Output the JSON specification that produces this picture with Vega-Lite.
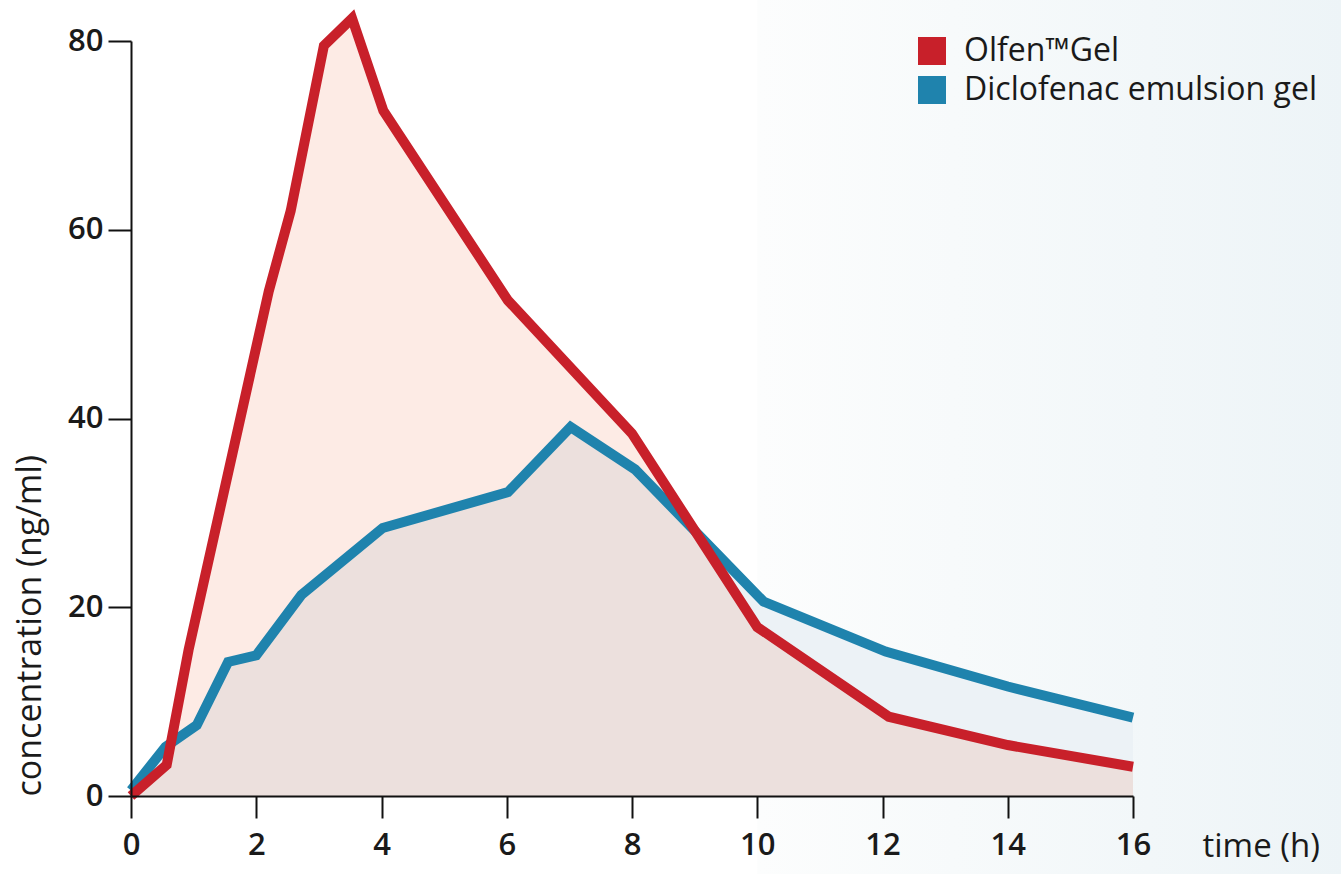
{
  "$schema": "https://vega.github.io/schema/vega-lite/v6.json",
  "width": 1002,
  "height": 755,
  "autosize": {"type": "none"},
  "padding": {"left": 131, "top": 41, "right": 208, "bottom": 78},
  "background": "#ffffff",
  "config": {
    "view": {"stroke": null},
    "font": "Open Sans"
  },
  "datasets": {
    "pk": [
      {"series": "Olfen™Gel", "time": 0, "conc": 0},
      {"series": "Olfen™Gel", "time": 0.57, "conc": 3.3},
      {"series": "Olfen™Gel", "time": 0.92, "conc": 15.5},
      {"series": "Olfen™Gel", "time": 2.2, "conc": 53.5},
      {"series": "Olfen™Gel", "time": 2.55, "conc": 62},
      {"series": "Olfen™Gel", "time": 3.08, "conc": 79.5},
      {"series": "Olfen™Gel", "time": 3.53, "conc": 82.4},
      {"series": "Olfen™Gel", "time": 4.03, "conc": 72.6},
      {"series": "Olfen™Gel", "time": 6.02, "conc": 52.5},
      {"series": "Olfen™Gel", "time": 8.0, "conc": 38.4},
      {"series": "Olfen™Gel", "time": 10.0, "conc": 17.9},
      {"series": "Olfen™Gel", "time": 12.1, "conc": 8.4},
      {"series": "Olfen™Gel", "time": 14.0, "conc": 5.4},
      {"series": "Olfen™Gel", "time": 16, "conc": 3.1},
      {"series": "Diclofenac emulsion gel", "time": 0, "conc": 0.6},
      {"series": "Diclofenac emulsion gel", "time": 0.55, "conc": 5.2},
      {"series": "Diclofenac emulsion gel", "time": 1.05, "conc": 7.5},
      {"series": "Diclofenac emulsion gel", "time": 1.55, "conc": 14.2},
      {"series": "Diclofenac emulsion gel", "time": 2.0, "conc": 14.9},
      {"series": "Diclofenac emulsion gel", "time": 2.72, "conc": 21.3},
      {"series": "Diclofenac emulsion gel", "time": 4.02, "conc": 28.4},
      {"series": "Diclofenac emulsion gel", "time": 6.02, "conc": 32.2},
      {"series": "Diclofenac emulsion gel", "time": 7.02, "conc": 39.1},
      {"series": "Diclofenac emulsion gel", "time": 8.05, "conc": 34.6},
      {"series": "Diclofenac emulsion gel", "time": 10.1, "conc": 20.6},
      {"series": "Diclofenac emulsion gel", "time": 12.05, "conc": 15.3},
      {"series": "Diclofenac emulsion gel", "time": 14.0, "conc": 11.6},
      {"series": "Diclofenac emulsion gel", "time": 16, "conc": 8.3}
    ]
  },
  "layer": [
    {
      "data": {"values": [{"t0": 10.0, "t1": 19.4, "c0": -8.5, "c1": 87}]},
      "mark": {
        "type": "rect",
        "color": {
          "gradient": "linear",
          "x1": 0, "y1": 0, "x2": 1, "y2": 0,
          "stops": [
            {"offset": 0, "color": "#fcfdfd"},
            {"offset": 1, "color": "#edf4f7"}
          ]
        }
      },
      "encoding": {
        "x": {
          "field": "t0", "type": "quantitative",
          "scale": {"domain": [0, 16], "nice": false},
          "axis": {
            "zindex": 2,
            "values": [0, 2, 4, 6, 8, 10, 12, 14, 16],
            "format": "d",
            "labelFlush": false,
            "grid": false,
            "domainColor": "#111111", "domainWidth": 2,
            "tickColor": "#111111", "tickWidth": 2, "tickSize": 22,
            "labelFont": "Open Sans", "labelFontSize": 31, "labelFontWeight": 600, "labelColor": "#1a1a1a",
            "labelPadding": 12,
            "title": "time (h)",
            "titleFont": "Open Sans", "titleFontSize": 33, "titleFontWeight": 500, "titleColor": "#1a1a1a",
            "titleAlign": "left", "titleBaseline": "alphabetic",
            "titleX": 1071, "titleY": 60
          }
        },
        "x2": {"field": "t1"},
        "y": {
          "field": "c0", "type": "quantitative",
          "scale": {"domain": [0, 80], "nice": false},
          "axis": {
            "zindex": 2,
            "values": [0, 20, 40, 60, 80],
            "format": "d",
            "labelFlush": false,
            "grid": false,
            "domainColor": "#111111", "domainWidth": 2,
            "tickColor": "#111111", "tickWidth": 2, "tickSize": 23,
            "labelFont": "Open Sans", "labelFontSize": 31, "labelFontWeight": 600, "labelColor": "#1a1a1a",
            "labelPadding": 5,
            "title": "concentration (ng/ml)",
            "titleFont": "Open Sans", "titleFontSize": 34, "titleFontWeight": 500, "titleColor": "#1a1a1a",
            "titleAngle": -90,
            "titleAlign": "left", "titleBaseline": "bottom",
            "titleX": -84, "titleY": 755
          }
        },
        "y2": {"field": "c1"}
      }
    },
    {
      "data": {"name": "pk"},
      "transform": [{"filter": "datum.series === 'Diclofenac emulsion gel'"}],
      "mark": {"type": "area", "color": "#ecf2f6", "opacity": 1},
      "encoding": {
        "x": {"field": "time", "type": "quantitative"},
        "y": {"field": "conc", "type": "quantitative"}
      }
    },
    {
      "data": {"name": "pk"},
      "transform": [{"filter": "datum.series === 'Olfen™Gel'"}],
      "mark": {"type": "area", "color": "#f07850", "opacity": 0.15},
      "encoding": {
        "x": {"field": "time", "type": "quantitative"},
        "y": {"field": "conc", "type": "quantitative"}
      }
    },
    {
      "data": {"name": "pk"},
      "transform": [{"filter": "datum.series === 'Diclofenac emulsion gel'"}],
      "mark": {"type": "line", "color": "#1f83ad", "strokeWidth": 10, "strokeJoin": "miter", "strokeCap": "butt"},
      "encoding": {
        "x": {"field": "time", "type": "quantitative"},
        "y": {"field": "conc", "type": "quantitative"}
      }
    },
    {
      "data": {"name": "pk"},
      "transform": [{"filter": "datum.series === 'Olfen™Gel'"}],
      "mark": {"type": "line", "color": "#c8202a", "strokeWidth": 10, "strokeJoin": "miter", "strokeCap": "butt"},
      "encoding": {
        "x": {"field": "time", "type": "quantitative"},
        "y": {"field": "conc", "type": "quantitative"}
      }
    },
    {
      "data": {"name": "pk"},
      "transform": [{"filter": "false"}],
      "mark": {"type": "square", "filled": true, "opacity": 1},
      "encoding": {
        "x": {"field": "time", "type": "quantitative"},
        "y": {"field": "conc", "type": "quantitative"},
        "color": {
          "field": "series", "type": "nominal",
          "scale": {"domain": ["Olfen™Gel", "Diclofenac emulsion gel"], "range": ["#c8202a", "#1f83ad"]},
          "legend": {
            "title": null,
            "orient": "none",
            "legendX": 785,
            "legendY": -6,
            "symbolType": "square",
            "symbolSize": 784,
            "symbolStrokeWidth": 0,
            "symbolOpacity": 1,
            "labelFont": "Open Sans",
            "labelFontSize": 32,
            "labelFontWeight": 500,
            "labelColor": "#1a1a1a",
            "labelOffset": 16,
            "rowPadding": 7,
            "labelLimit": 600
          }
        }
      }
    }
  ]
}
